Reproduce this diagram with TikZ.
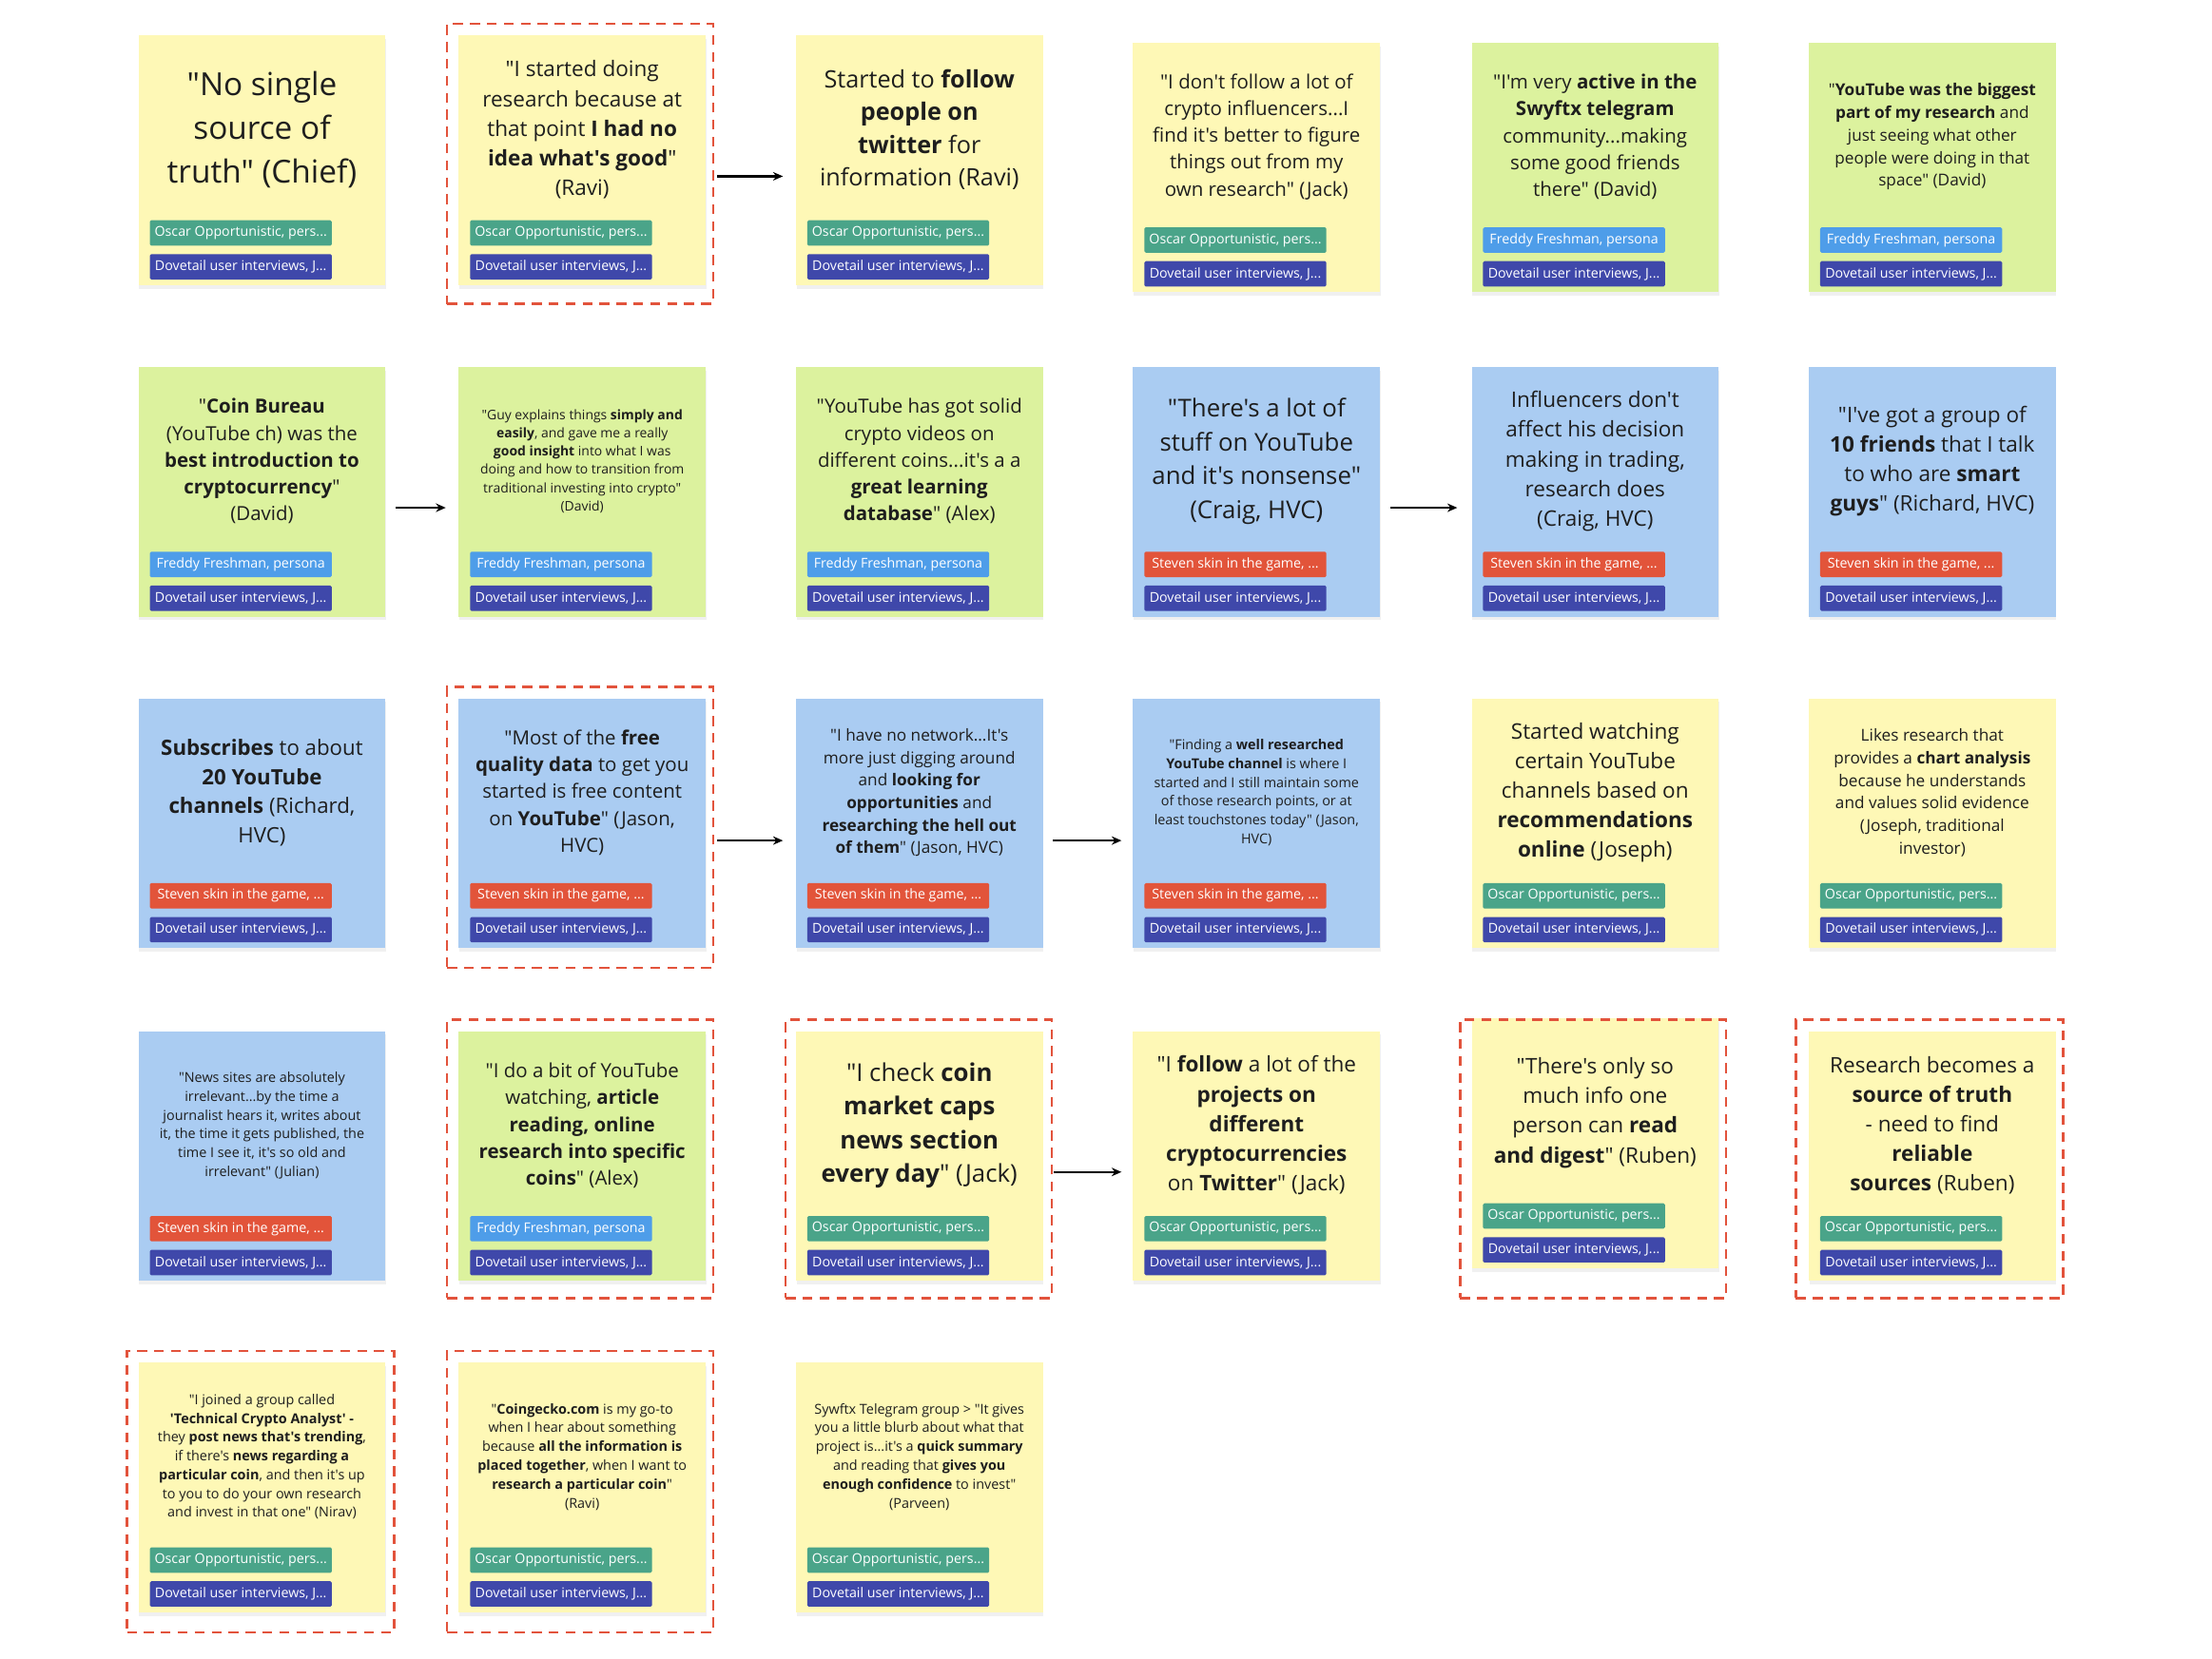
\documentclass[tikz,border=0pt]{standalone}
\usepackage{fontspec}
\setmainfont{Open Sans}[Ligatures=TeXOff]
\usepackage{xcolor}
\usepackage{tikz}
\usetikzlibrary{arrows.meta, shadows, fit}

\definecolor{yel}{HTML}{FEF8B6}
\definecolor{grn}{HTML}{DCF29E}
\definecolor{blu}{HTML}{AACCF2}
\definecolor{oscar}{HTML}{4AA489}
\definecolor{freddy}{HTML}{4E9DE9}
\definecolor{steven}{HTML}{E2543A}
\definecolor{dovetail}{HTML}{3F48AA}
\definecolor{ink}{HTML}{1E1E1E}
\definecolor{hl}{HTML}{E2533C}

\newcommand\fsz[2]{\fontsize{#1pt}{#2pt}\selectfont}
\newcommand\oscartag{Oscar Opportunistic, pers...}
\newcommand\freddytag{Freddy Freshman, persona}
\newcommand\steventag{Steven skin in the game, ...}

\begin{document}
\begin{tikzpicture}[x=1pt, y=-1pt,
	sticky/.style={anchor=north west, minimum width=175pt, minimum height=177pt, inner sep=0pt, drop shadow={shadow xshift=0.5pt, shadow yshift=-2.5pt, opacity=0.12}},
	quote/.style={align=center, text=ink, inner sep=0pt},
	tagbox/.style={anchor=north west, minimum width=129pt, minimum height=18pt, inner sep=0pt, rounded corners=1pt, text=white, font=\fsz{9.6}{11}},
	hilite/.style={draw=hl, dash pattern=on 7pt off 5pt, line width=1.6pt, inner sep=0pt},
	flow/.style={-{Stealth[length=7pt, width=6pt]}, line width=1.5pt}]
	\useasboundingbox (0,0) rectangle (1568,1176);
	
	% the notes
	\foreach \id/\px/\py/\col in {11/98/25/yel, 12/325/25/yel, 13/564/25/yel, 14/803/30/yel, 15/1043/30/grn, 16/1282/30/grn,
		21/98/260/grn, 22/325/260/grn, 23/564/260/grn, 24/803/260/blu, 25/1043/260/blu, 26/1282/260/blu,
		31/98/495/blu, 32/325/495/blu, 33/564/495/blu, 34/803/495/blu, 35/1043/495/yel, 36/1282/495/yel,
		41/98/731/blu, 42/325/731/grn, 43/564/731/yel, 44/803/731/yel, 45/1043/722/yel, 46/1282/731/yel,
		51/98/966/yel, 52/325/966/yel, 53/564/966/yel}
		\node[sticky, fill=\col] (s\id) at (\px,\py) {};
	
	% quotes
	\node[quote, font=\fsz{22.5}{31}] (q11) at ([yshift=-67pt]s11.north) {"No single\\source of\\truth" (Chief)};
	\node[quote, font=\fsz{15.2}{21}] (q12) at ([yshift=-67pt]s12.north) {"I started doing\\research because at\\that point \textbf{I had no}\\\textbf{idea what's good}"\\(Ravi)};
	\node[quote, font=\fsz{17}{23.3}] (q13) at ([yshift=-67pt]s13.north) {Started to \textbf{follow}\\\textbf{people on}\\\textbf{twitter} for\\information (Ravi)};
	\node[quote, font=\fsz{13.8}{19}] (q14) at ([yshift=-67pt]s14.north) {"I don't follow a lot of\\crypto influencers...I\\find it's better to figure\\things out from my\\own research" (Jack)};
	\node[quote, font=\fsz{13.8}{19}] (q15) at ([yshift=-67pt]s15.north) {"I'm very \textbf{active in the}\\\textbf{Swyftx telegram}\\community...making\\some good friends\\there" (David)};
	\node[quote, font=\fsz{11.6}{16}] (q16) at ([yshift=-67pt]s16.north) {"\textbf{YouTube was the biggest}\\\textbf{part of my research} and\\just seeing what other\\people were doing in that\\space" (David)};
	
	\node[quote, font=\fsz{13.8}{19}] (q21) at ([yshift=-67pt]s21.north) {"\textbf{Coin Bureau}\\(YouTube ch) was the\\\textbf{best introduction to}\\\textbf{cryptocurrency}"\\(David)};
	\node[quote, font=\fsz{9.4}{13}] (q22) at ([yshift=-67pt]s22.north) {"Guy explains things \textbf{simply and}\\\textbf{easily}, and gave me a really\\\textbf{good insight} into what I was\\doing and how to transition from\\traditional investing into crypto"\\(David)};
	\node[quote, font=\fsz{13.8}{19}] (q23) at ([yshift=-67pt]s23.north) {"YouTube has got solid\\crypto videos on\\different coins...it's a a\\\textbf{great learning}\\\textbf{database}" (Alex)};
	\node[quote, font=\fsz{17.4}{24}] (q24) at ([yshift=-67pt]s24.north) {"There's a lot of\\stuff on YouTube\\and it's nonsense"\\(Craig, HVC)};
	\node[quote, font=\fsz{15.2}{21}] (q25) at ([yshift=-67pt]s25.north) {Influencers don't\\affect his decision\\making in trading,\\research does\\(Craig, HVC)};
	\node[quote, font=\fsz{15.2}{21}] (q26) at ([yshift=-67pt]s26.north) {"I've got a group of\\\textbf{10 friends} that I talk\\to who are \textbf{smart}\\\textbf{guys}" (Richard, HVC)};
	
	\node[quote, font=\fsz{15}{20.7}] (q31) at ([yshift=-67pt]s31.north) {\textbf{Subscribes} to about\\\textbf{20 YouTube}\\\textbf{channels} (Richard,\\HVC)};
	\node[quote, font=\fsz{13.8}{19}] (q32) at ([yshift=-67pt]s32.north) {"Most of the \textbf{free}\\\textbf{quality data} to get you\\started is free content\\on \textbf{YouTube}" (Jason,\\HVC)};
	\node[quote, font=\fsz{11.6}{16}] (q33) at ([yshift=-67pt]s33.north) {"I have no network...It's\\more just digging around\\and \textbf{looking for}\\\textbf{opportunities} and\\\textbf{researching the hell out}\\\textbf{of them}" (Jason, HVC)};
	\node[quote, font=\fsz{9.7}{13.3}] (q34) at ([yshift=-67pt]s34.north) {"Finding a \textbf{well researched}\\\textbf{YouTube channel} is where I\\started and I still maintain some\\of those research points, or at\\least touchstones today" (Jason,\\HVC)};
	\node[quote, font=\fsz{15.2}{21}] (q35) at ([yshift=-67pt]s35.north) {Started watching\\certain YouTube\\channels based on\\\textbf{recommendations}\\\textbf{online} (Joseph)};
	\node[quote, font=\fsz{11.6}{16}] (q36) at ([yshift=-67pt]s36.north) {Likes research that\\provides a \textbf{chart analysis}\\because he understands\\and values solid evidence\\(Joseph, traditional\\investor)};
	
	\node[quote, font=\fsz{9.7}{13.3}] (q41) at ([yshift=-67pt]s41.north) {"News sites are absolutely\\irrelevant...by the time a\\journalist hears it, writes about\\it, the time it gets published, the\\time I see it, it's so old and\\irrelevant" (Julian)};
	\node[quote, font=\fsz{13.8}{19}] (q42) at ([yshift=-67pt]s42.north) {"I do a bit of YouTube\\watching, \textbf{article}\\\textbf{reading, online}\\\textbf{research into specific}\\\textbf{coins}" (Alex)};
	\node[quote, font=\fsz{17.4}{24}] (q43) at ([yshift=-67pt]s43.north) {"I check \textbf{coin}\\\textbf{market caps}\\\textbf{news section}\\\textbf{every day}" (Jack)};
	\node[quote, font=\fsz{15.2}{21}] (q44) at ([yshift=-67pt]s44.north) {"I \textbf{follow} a lot of the\\\textbf{projects on}\\\textbf{different}\\\textbf{cryptocurrencies}\\on \textbf{Twitter}" (Jack)};
	\node[quote, font=\fsz{15.2}{21}] (q45) at ([yshift=-67pt]s45.north) {"There's only so\\much info one\\person can \textbf{read}\\\textbf{and digest}" (Ruben)};
	\node[quote, font=\fsz{15.2}{21}] (q46) at ([yshift=-67pt]s46.north) {Research becomes a\\\textbf{source of truth}\\- need to find\\\textbf{reliable}\\\textbf{sources} (Ruben)};
	
	\node[quote, font=\fsz{9.7}{13.3}] (q51) at ([yshift=-67pt]s51.north) {"I joined a group called\\\textbf{'Technical Crypto Analyst' -}\\they \textbf{post news that's trending},\\if there's \textbf{news regarding a}\\\textbf{particular coin}, and then it's up\\to you to do your own research\\and invest in that one" (Nirav)};
	\node[quote, font=\fsz{9.7}{13.4}] (q52) at ([yshift=-67pt]s52.north) {"\textbf{Coingecko.com} is my go-to\\when I hear about something\\because \textbf{all the information is}\\\textbf{placed together}, when I want to\\\textbf{research a particular coin}"\\(Ravi)};
	\node[quote, font=\fsz{9.7}{13.4}] (q53) at ([yshift=-67pt]s53.north) {Sywftx Telegram group > "It gives\\you a little blurb about what that\\project is...it's a \textbf{quick summary}\\and reading that \textbf{gives you}\\\textbf{enough confidence} to invest"\\(Parveen)};
	
	% tags
	\foreach \id/\who in {11/oscar, 12/oscar, 13/oscar, 14/oscar, 15/freddy, 16/freddy,
		21/freddy, 22/freddy, 23/freddy, 24/steven, 25/steven, 26/steven,
		31/steven, 32/steven, 33/steven, 34/steven, 35/oscar, 36/oscar,
		41/steven, 42/freddy, 43/oscar, 44/oscar, 45/oscar, 46/oscar,
		51/oscar, 52/oscar, 53/oscar} {
		\node[tagbox, fill=\who] (p\id) at ([shift={(8pt,-131pt)}]s\id.north west) {\csname\who tag\endcsname};
		\node[tagbox, fill=dovetail] (d\id) at ([shift={(8pt,-155pt)}]s\id.north west) {Dovetail user interviews, J...};
	}
	
	% highlighted notes
	\node[hilite, fit={([shift={(-8pt,8pt)}]s12.north west) ([shift={(5pt,-13pt)}]s12.south east)}] (b12) {};
	\node[hilite, fit={([shift={(-8pt,8pt)}]s32.north west) ([shift={(5pt,-14pt)}]s32.south east)}] (b32) {};
	\node[hilite, fit={([shift={(-8pt,8pt)}]s42.north west) ([shift={(5pt,-12pt)}]s42.south east)}] (b42) {};
	\node[hilite, fit={([shift={(-7pt,8pt)}]s43.north west) ([shift={(6pt,-12pt)}]s43.south east)}] (b43) {};
	\node[hilite, fit={([shift={(-8pt,-1pt)}]s45.north west) ([shift={(5pt,-21pt)}]s45.south east)}] (b45) {};
	\node[hilite, fit={([shift={(-9pt,8pt)}]s46.north west) ([shift={(5pt,-12pt)}]s46.south east)}] (b46) {};
	\node[hilite, fit={([shift={(-8pt,8pt)}]s51.north west) ([shift={(6pt,-14pt)}]s51.south east)}] (b51) {};
	\node[hilite, fit={([shift={(-8pt,8pt)}]s52.north west) ([shift={(5pt,-14pt)}]s52.south east)}] (b52) {};
	
	% arrows
	\coordinate (r1) at (0,125);
	\coordinate (r2) at (0,360);
	\coordinate (r3) at (0,596);
	\coordinate (r4) at (0,831);
	\draw[flow, shorten <=2pt, shorten >=9pt] (b12.east |- r1) -- (s13.west |- r1);
	\draw[flow, shorten <=7pt, shorten >=9pt] (s21.east |- r2) -- (s22.west |- r2);
	\draw[flow, shorten <=7pt, shorten >=10pt] (s24.east |- r2) -- (s25.west |- r2);
	\draw[flow, shorten <=2pt, shorten >=9pt] (b32.east |- r3) -- (s33.west |- r3);
	\draw[flow, shorten <=7pt, shorten >=8pt] (s33.east |- r3) -- (s34.west |- r3);
	\draw[flow, shorten <=1pt, shorten >=8pt] (b43.east |- r4) -- (s44.west |- r4);
\end{tikzpicture}
\end{document}
